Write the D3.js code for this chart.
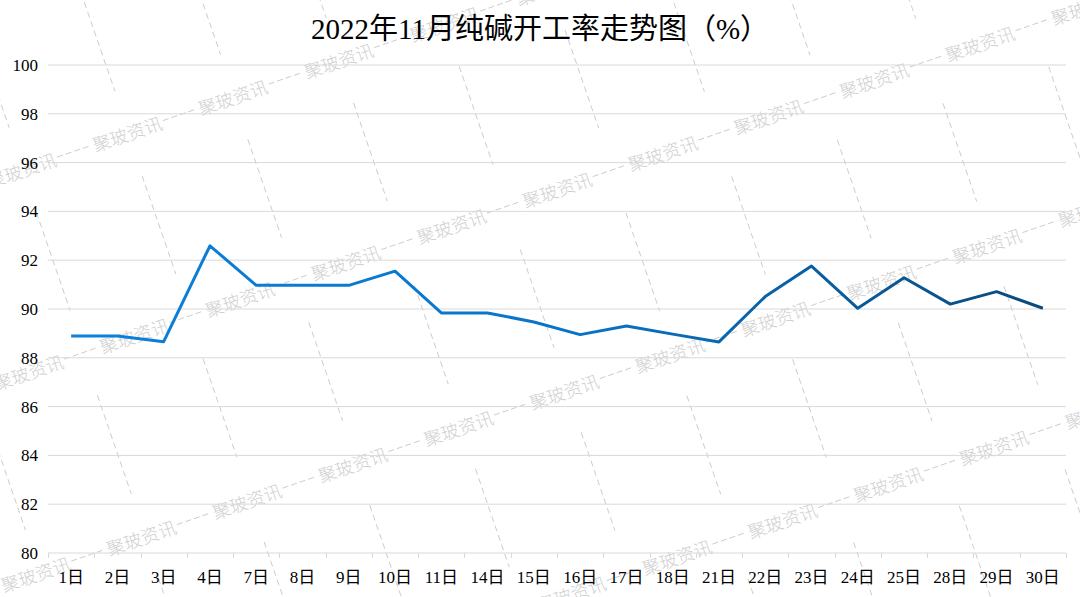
<!DOCTYPE html>
<html><head><meta charset="utf-8">
<script src="https://cdn.jsdelivr.net/npm/d3@7/dist/d3.min.js"></script>
<style>html,body{margin:0;padding:0;background:#fff;}svg{display:block;}</style>
</head><body>
<svg id="chart" width="1080" height="597"></svg>
<script>
const title = "2022年11月纯碱开工率走势图（%）";
const categories = ["1日","2日","3日","4日","7日","8日","9日","10日","11日","14日","15日","16日","17日","18日","21日","22日","23日","24日","25日","28日","29日","30日"];
const values = [88.89,88.89,88.66,92.59,90.97,90.97,90.97,91.55,89.84,89.84,89.47,88.95,89.30,88.97,88.65,90.51,91.76,90.03,91.28,90.20,90.71,90.03];
const yTicks = [80,82,84,86,88,90,92,94,96,98,100];
const watermarkText = "聚玻资讯";

const W = 1080, H = 597;
const svg = d3.select("#chart");
const margin = {left:48, right:14, top:65, bottom:44};
const x = d3.scaleBand().domain(categories).range([margin.left, W - margin.right]);
const y = d3.scaleLinear().domain([80,100]).range([H - margin.bottom, margin.top]);
const cx = c => x(c) + x.bandwidth()/2;

// ---- watermark (background) ----
const wm = svg.append("g").attr("class","watermark");
const u = [105.7, -36.5];
const uLen = Math.hypot(u[0], u[1]);
const dir = [u[0]/uLen, u[1]/uLen];
const ang = Math.atan2(u[1], u[0]) * 180 / Math.PI;
const T0 = [127,133], vT = [7,202];
const fs = 18, half = fs*2;
for (let r = -4; r <= 6; r++) {
  for (let k = -8; k <= 14; k++) {
    const px = T0[0] + k*u[0] + r*vT[0];
    const py = T0[1] + k*u[1] + r*vT[1];
    if (px < -150 || px > W + 150 || py < -80 || py > H + 80) continue;
    wm.append("text").attr("x", px).attr("y", py)
      .attr("transform", `rotate(${ang},${px},${py})`)
      .attr("text-anchor","middle").attr("dominant-baseline","central")
      .attr("font-family","'Noto Sans CJK SC', sans-serif").attr("font-weight",300)
      .attr("font-size", fs).attr("fill","#cfcfcf").text(watermarkText);
    const a = half + 2, b = uLen - half - 2;
    wm.append("line")
      .attr("x1", px + a*dir[0]).attr("y1", py + a*dir[1])
      .attr("x2", px + b*dir[0]).attr("y2", py + b*dir[1])
      .attr("stroke","#cccccc").attr("stroke-width",1).attr("stroke-dasharray","6,3");
  }
}
const S0 = [159,225], vS = [61,183];
const sd = [34/Math.hypot(34,99), 99/Math.hypot(34,99)];
for (let r = -3; r <= 5; r++) {
  for (let k = -8; k <= 14; k++) {
    const px = S0[0] + k*u[0] + r*vS[0];
    const py = S0[1] + k*u[1] + r*vS[1];
    if (px < -80 || px > W + 80 || py < -80 || py > H + 80) continue;
    wm.append("line")
      .attr("x1", px - 52*sd[0]).attr("y1", py - 52*sd[1])
      .attr("x2", px + 52*sd[0]).attr("y2", py + 52*sd[1])
      .attr("stroke","#cccccc").attr("stroke-width",1).attr("stroke-dasharray","6,4");
  }
}

// ---- gridlines ----
svg.append("g").selectAll("line").data(yTicks.filter(t => t > 80)).join("line")
  .attr("x1", margin.left).attr("x2", W - margin.right)
  .attr("y1", d => y(d)).attr("y2", d => y(d))
  .attr("stroke","#d9d9d9").attr("stroke-width",1);

// x axis baseline + boundary ticks
const base = y(80);
svg.append("line").attr("x1", margin.left).attr("x2", W - margin.right)
  .attr("y1", base).attr("y2", base).attr("stroke","#d9d9d9").attr("stroke-width",1);
const bounds = categories.map(c => x(c)).concat([x(categories[categories.length-1]) + x.bandwidth()]);
svg.append("g").selectAll("line").data(bounds).join("line")
  .attr("x1", d => Math.round(d)+0.5).attr("x2", d => Math.round(d)+0.5)
  .attr("y1", base).attr("y2", base + 5)
  .attr("stroke","#d9d9d9").attr("stroke-width",1);

// x labels
const xAxis = d3.axisBottom(x).tickSize(0).tickPadding(18);
const gx = svg.append("g").attr("transform", `translate(0,${base})`).call(xAxis);
gx.select(".domain").remove();
gx.selectAll("text").attr("font-family","'Liberation Serif','Noto Sans CJK SC',serif")
  .attr("font-size",17).attr("fill","#000");

// y labels
const yAxis = d3.axisLeft(y).tickValues(yTicks).tickSize(0).tickPadding(10);
const gy = svg.append("g").attr("transform", `translate(${margin.left},0)`).call(yAxis);
gy.select(".domain").remove();
gy.selectAll("text").attr("font-family","'Liberation Serif',serif")
  .attr("font-size",17).attr("fill","#000");

// ---- line ----
const defs = svg.append("defs");
const grad = defs.append("linearGradient").attr("id","lineGrad")
  .attr("gradientUnits","userSpaceOnUse")
  .attr("x1", cx(categories[0])).attr("x2", cx(categories[categories.length-1]))
  .attr("y1",0).attr("y2",0);
grad.append("stop").attr("offset","0").attr("stop-color","#0b80dc");
grad.append("stop").attr("offset","0.5").attr("stop-color","#0875c9");
grad.append("stop").attr("offset","1").attr("stop-color","#0a4a7e");

const line = d3.line().x((d,i) => cx(categories[i])).y(d => y(d));
svg.append("path").datum(values).attr("d", line)
  .attr("fill","none").attr("stroke","url(#lineGrad)").attr("stroke-width",3)
  .attr("stroke-linejoin","round").attr("stroke-linecap","butt");

// ---- title ----
svg.append("text").attr("x", W/2).attr("y", 39).attr("text-anchor","middle")
  .attr("font-family","'Liberation Serif','Noto Sans CJK SC',serif")
  .attr("font-size",29).attr("fill","#000").text(title);
</script>
</body></html>
